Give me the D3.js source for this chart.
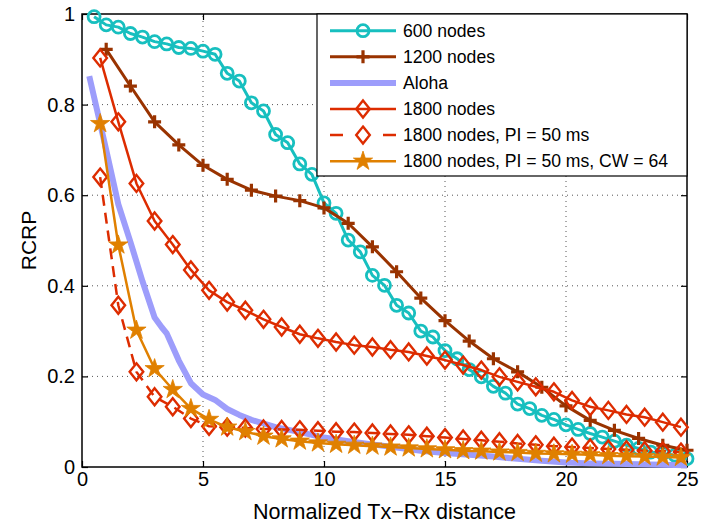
<!DOCTYPE html>
<html lang="en">
<head>
<meta charset="UTF-8">
<title>RCRP vs normalized Tx-Rx distance</title>
<script src="https://d3js.org/d3.v7.min.js"></script>
<style>
    body {
        margin: 0;
        padding: 0;
        background: #fff;
    }
    svg {
        display: block;
        font-family: "Liberation Sans", Arial, Helvetica, sans-serif;
    }
    .grid line {
        stroke: #555;
        stroke-width: 1;
        stroke-dasharray: 1, 4;
    }
</style>
</head>
<body>
<svg id="chart" width="721" height="526"></svg>
<script>
// ---- data ----
const xHalf = [0.5, 1, 1.5, 2, 2.5, 3, 3.5, 4, 4.5, 5, 5.5, 6, 6.5, 7, 7.5, 8, 8.5, 9, 9.5, 10,
    10.5, 11, 11.5, 12, 12.5, 13, 13.5, 14, 14.5, 15, 15.5, 16, 16.5, 17, 17.5, 18, 18.5, 19, 19.5, 20,
    20.5, 21, 21.5, 22, 22.5, 23, 23.5, 24, 24.5, 25];
const nodes600 = [0.994, 0.976, 0.971, 0.957, 0.949, 0.939, 0.934, 0.926, 0.924, 0.918,
    0.911, 0.869, 0.852, 0.804, 0.786, 0.734, 0.716, 0.669, 0.646, 0.583,
    0.560, 0.501, 0.475, 0.423, 0.401, 0.357, 0.340, 0.300, 0.287, 0.257,
    0.239, 0.215, 0.199, 0.178, 0.163, 0.139, 0.129, 0.114, 0.105, 0.093,
    0.083, 0.074, 0.066, 0.057, 0.048, 0.041, 0.033, 0.030, 0.026, 0.018];

const xUnit = [1, 2, 3, 4, 5, 6, 7, 8, 9, 10, 11, 12, 13, 14, 15, 16, 17, 18, 19, 20, 21, 22, 23, 24, 25];
const nodes1200 = [0.922, 0.841, 0.762, 0.711, 0.666, 0.635, 0.611, 0.598, 0.588, 0.572,
    0.538, 0.486, 0.431, 0.373, 0.323, 0.278, 0.239, 0.210, 0.176, 0.135,
    0.103, 0.081, 0.063, 0.048, 0.037];

const xAloha = [0.3, 1, 1.5, 2, 2.5, 3, 3.3, 3.5, 4, 4.5, 5, 5.5, 6, 6.5, 7, 8, 9, 10,
    11, 12, 13, 14, 15, 16, 17, 18, 19, 20, 21, 22, 23, 24, 25];
const aloha = [0.863, 0.700, 0.580, 0.497, 0.410, 0.330, 0.308, 0.295, 0.235, 0.185, 0.160,
    0.148, 0.128, 0.115, 0.104, 0.088, 0.077, 0.065, 0.057, 0.050, 0.043, 0.036,
    0.031, 0.027, 0.023, 0.018, 0.014, 0.010, 0.008, 0.007, 0.006, 0.005, 0.004];

const xQuarter = [0.75, 1.5, 2.25, 3, 3.75, 4.5, 5.25, 6, 6.75, 7.5, 8.25, 9, 9.75, 10.5, 11.25,
    12, 12.75, 13.5, 14.25, 15, 15.75, 16.5, 17.25, 18, 18.75, 19.5, 20.25, 21, 21.75,
    22.5, 23.25, 24, 24.75];
const nodes1800 = [0.903, 0.762, 0.626, 0.543, 0.491, 0.435, 0.390, 0.364, 0.346, 0.326,
    0.309, 0.293, 0.284, 0.276, 0.269, 0.265, 0.259, 0.254, 0.245, 0.236,
    0.225, 0.214, 0.199, 0.188, 0.177, 0.166, 0.147, 0.133, 0.125, 0.116,
    0.110, 0.099, 0.088];
const nodes1800PI = [0.640, 0.357, 0.210, 0.155, 0.133, 0.107, 0.090, 0.088, 0.086, 0.084,
    0.083, 0.082, 0.080, 0.078, 0.077, 0.075, 0.073, 0.071, 0.068, 0.065,
    0.062, 0.059, 0.056, 0.052, 0.049, 0.046, 0.044, 0.042, 0.040, 0.038,
    0.036, 0.035, 0.033];
const nodes1800CW = [0.758, 0.490, 0.302, 0.217, 0.171, 0.129, 0.105, 0.088, 0.078, 0.068,
    0.062, 0.057, 0.053, 0.050, 0.048, 0.046, 0.044, 0.042, 0.040, 0.038,
    0.036, 0.035, 0.033, 0.032, 0.030, 0.029, 0.028, 0.027, 0.025, 0.024,
    0.023, 0.022, 0.021];

const xTicks = [0, 5, 10, 15, 20, 25];
const yTicks = [0, 0.2, 0.4, 0.6, 0.8, 1];
const yTickLabels = ["0", "0.2", "0.4", "0.6", "0.8", "1"];

const seriesNames = ["600 nodes", "1200 nodes", "Aloha", "1800 nodes",
    "1800 nodes, PI = 50 ms", "1800 nodes, PI = 50 ms, CW = 64"];

// ---- styling per series ----
const series = [
    { name: seriesNames[0], xs: xHalf, ys: nodes600, color: "#17bfbf", width: 3, marker: "circle" },
    { name: seriesNames[1], xs: xUnit, ys: nodes1200, color: "#993300", width: 3, marker: "plus" },
    { name: seriesNames[2], xs: xAloha, ys: aloha, color: "#9d9dfb", width: 6, marker: null },
    { name: seriesNames[3], xs: xQuarter, ys: nodes1800, color: "#dd2c00", width: 2.5, marker: "diamond" },
    { name: seriesNames[4], xs: xQuarter, ys: nodes1800PI, color: "#dd2c00", width: 2.5, marker: "diamond", dash: "11,7" },
    { name: seriesNames[5], xs: xQuarter, ys: nodes1800CW, color: "#e08000", width: 2.5, marker: "star" }
];

const svg = d3.select('#chart'),
    W = +svg.attr("width"),
    H = +svg.attr("height"),
    margin = { left: 82, right: 34, top: 14, bottom: 59 };

const x = d3.scaleLinear().domain([0, 25]).range([margin.left, W - margin.right]);
const y = d3.scaleLinear().domain([0, 1]).range([H - margin.bottom, margin.top]);

// grid
const grid = svg.append("g").attr("class", "grid");
grid.selectAll(".gx").data(xTicks.slice(1, -1)).join("line")
    .attr("x1", d => x(d)).attr("x2", d => x(d))
    .attr("y1", y(0)).attr("y2", y(1));
grid.selectAll(".gy").data(yTicks.slice(1, -1)).join("line")
    .attr("x1", x(0)).attr("x2", x(25))
    .attr("y1", d => y(d)).attr("y2", d => y(d));

// axes (ticks inward on all four sides)
const tickLen = 6;
svg.append("g").attr("transform", `translate(0,${y(0)})`)
    .call(d3.axisBottom(x).tickValues(xTicks).tickSizeInner(-tickLen).tickSizeOuter(0).tickPadding(5))
    .call(g => g.select(".domain").remove());
svg.append("g").attr("transform", `translate(0,${y(1)})`)
    .call(d3.axisTop(x).tickValues(xTicks).tickSizeInner(-tickLen).tickSizeOuter(0).tickFormat(""))
    .call(g => g.select(".domain").remove());
svg.append("g").attr("transform", `translate(${x(0)},0)`)
    .call(d3.axisLeft(y).tickValues(yTicks).tickSizeInner(-tickLen).tickSizeOuter(0).tickPadding(7)
        .tickFormat((d, i) => yTickLabels[i]))
    .call(g => g.select(".domain").remove());
svg.append("g").attr("transform", `translate(${x(25)},0)`)
    .call(d3.axisRight(y).tickValues(yTicks).tickSizeInner(-tickLen).tickSizeOuter(0).tickFormat(""))
    .call(g => g.select(".domain").remove());

svg.selectAll(".tick line").attr("stroke", "#000").attr("stroke-width", 1.2);
svg.selectAll(".tick text").attr("font-size", 20).attr("fill", "#000")
    .attr("font-family", "Liberation Sans, Arial, sans-serif");

// frame
svg.append("rect")
    .attr("x", x(0)).attr("y", y(1))
    .attr("width", x(25) - x(0)).attr("height", y(0) - y(1))
    .attr("fill", "none").attr("stroke", "#000").attr("stroke-width", 1.5);

// axis titles
svg.append("text")
    .attr("x", (x(0) + x(25)) / 2).attr("y", 519)
    .attr("text-anchor", "middle").attr("font-size", 21.5)
    .text("Normalized Tx\u2212Rx distance");
svg.append("text")
    .attr("transform", `translate(36,${(y(0) + y(1)) / 2}) rotate(-90)`)
    .attr("text-anchor", "middle").attr("font-size", 21)
    .text("RCRP");

// marker drawing
function drawMarker(g, type, color, cx, cy) {
    if (type === "circle") {
        g.append("circle").attr("cx", cx).attr("cy", cy).attr("r", 6)
            .attr("fill", "none").attr("stroke", color).attr("stroke-width", 2.8);
    } else if (type === "plus") {
        g.append("path").attr("d", `M${cx - 6.5},${cy}H${cx + 6.5}M${cx},${cy - 6.5}V${cy + 6.5}`)
            .attr("stroke", color).attr("stroke-width", 3.2).attr("fill", "none");
    } else if (type === "diamond") {
        g.append("path").attr("d", `M${cx},${cy - 8.5}L${cx + 6.8},${cy}L${cx},${cy + 8.5}L${cx - 6.8},${cy}Z`)
            .attr("stroke", color).attr("stroke-width", 2.4).attr("fill", "none");
    } else if (type === "star") {
        g.append("path").attr("d", d3.symbol(d3.symbolStar, 115)())
            .attr("transform", `translate(${cx},${cy})`)
            .attr("fill", color).attr("stroke", color).attr("stroke-width", 0.8);
    }
}

const line = d3.line().x(d => x(d[0])).y(d => y(d[1]));
const plot = svg.append("g");

series.forEach(s => {
    const pts = s.xs.map((v, i) => [v, s.ys[i]]);
    plot.append("path")
        .attr("d", line(pts))
        .attr("fill", "none")
        .attr("stroke", s.color)
        .attr("stroke-width", s.width)
        .attr("stroke-linejoin", "round")
        .attr("stroke-dasharray", s.dash || null);
    if (s.marker) {
        const mg = plot.append("g");
        pts.forEach(p => drawMarker(mg, s.marker, s.color, x(p[0]), y(p[1])));
    }
});

// legend
const lx = 317, ly = y(1), lw = x(25) - 317, lh = 162;
const legend = svg.append("g");
legend.append("rect")
    .attr("x", lx).attr("y", ly).attr("width", lw).attr("height", lh)
    .attr("fill", "#fff").attr("stroke", "#000").attr("stroke-width", 1.2);
series.forEach((s, i) => {
    const ry = 30.7 + i * 26.1;
    legend.append("line")
        .attr("x1", 330).attr("x2", 396).attr("y1", ry).attr("y2", ry)
        .attr("stroke", s.color).attr("stroke-width", s.width)
        .attr("stroke-dasharray", s.dash ? "13,40" : null);
    if (s.marker) drawMarker(legend, s.marker, s.color, 363, ry);
    legend.append("text")
        .attr("x", 403).attr("y", ry + 6.2)
        .attr("font-size", 17.6)
        .text(s.name);
});
</script>
</body>
</html>
